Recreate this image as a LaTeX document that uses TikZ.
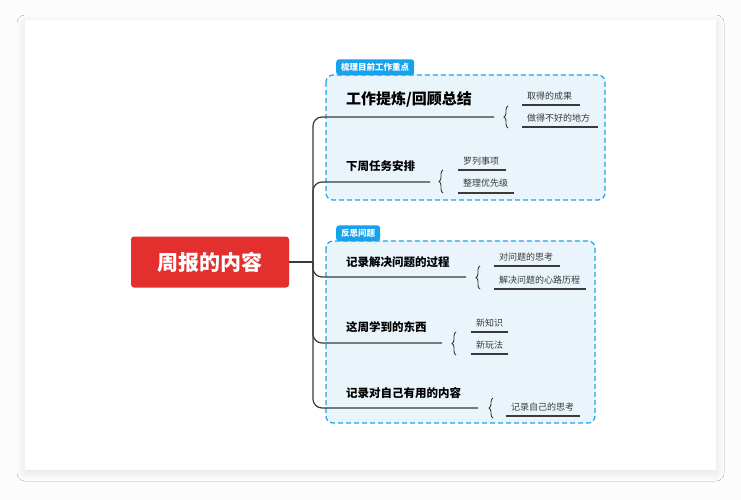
\documentclass[tikz,border=0pt]{standalone}
\usepackage{fontspec}
\setmainfont{Noto Sans CJK SC}
\usetikzlibrary{decorations.pathreplacing,shadows.blur}
\definecolor{bxfill}{HTML}{EAF5FB}
\definecolor{bxline}{HTML}{1FA3F0}
\definecolor{tabc}{HTML}{17A2EE}
\definecolor{redc}{HTML}{E3302F}
\definecolor{ln}{HTML}{3A3A3A}
\begin{document}
\begin{tikzpicture}[x=1pt,y=-1pt,
  grp/.style={draw=bxline,fill=bxfill,dash pattern=on 5pt off 3pt,line width=1.2pt,rounded corners=7},
  tab/.style={fill=tabc,text=white,rounded corners=3,font=\fontsize{8.5}{9}\selectfont\bfseries,inner xsep=5pt,inner ysep=0pt,anchor=south west,minimum height=16},
  big/.style={font=\fontsize{15}{16}\selectfont\bfseries,anchor=west,inner sep=0},
  mid/.style={font=\fontsize{11.5}{13}\selectfont\bfseries,anchor=west,inner sep=0},
  sm/.style={font=\fontsize{9}{10}\selectfont,anchor=west,inner sep=0,text=ln},
  under/.style={draw=ln,line width=1.1pt},
  br/.style={draw=ln,line width=0.9pt,decorate,decoration={brace,amplitude=4pt}}]
\useasboundingbox (0,0) rectangle (741,500);
\fill[black!1] (0,0) rectangle (741,500);
\fill[white,blur shadow={shadow blur steps=12,shadow blur radius=8pt,shadow xshift=0pt,shadow yshift=-3pt,shadow opacity=10}] (25,20) rectangle (716,470);
% groups
\path[grp] (326,75) rectangle (605,200);
\node[tab] (t1) at (336,75.5) {梳理目前工作重点};
\path[grp] (326,241) rectangle (595,423);
\node[tab] (t2) at (336,241.5) {反思问题};
% center
\node[fill=redc,text=white,rounded corners=3,minimum width=158,minimum height=51,font=\fontsize{21}{22}\selectfont\bfseries] (c) at (210,262) {周报的内容};
\coordinate (hub) at (313,262);
\draw[ln,line width=1.2pt] (c.east) -- (hub);
\foreach \y/\e in {117/494,182/430,277/466,343/442,408/478}{
  \draw[ln,line width=1.2pt,rounded corners=9] (hub) |- (333,\y) -- (\e,\y);
}
% branch texts
\node[big] (b1) at (346,99) {工作提炼/回顾总结};
\node[mid] (b2) at (346,166) {下周任务安排};
\node[mid] (b3) at (346,262) {记录解决问题的过程};
\node[mid] (b4) at (346,327) {这周学到的东西};
\node[mid] (b5) at (346,393) {记录对自己有用的内容};
% braces
\draw[br] (508,128) -- (508,106);
\draw[br] (443,193) -- (443,170);
\draw[br] (480,289) -- (480,266);
\draw[br] (456,355) -- (456,332);
\draw[br] (493,418) -- (493,398);
% leaves
\node[sm] (l1) at (527,96) {取得的成果}; \draw[under] (522,105) -- (580,105);
\node[sm] (l2) at (527,118) {做得不好的地方}; \draw[under] (522,127) -- (598,127);
\node[sm] (l3) at (463,161) {罗列事项}; \draw[under] (458,170) -- (506,170);
\node[sm] (l4) at (463,183) {整理优先级}; \draw[under] (458,193) -- (514,193);
\node[sm] (l5) at (499,257) {对问题的思考}; \draw[under] (494,266) -- (560,266);
\node[sm] (l6) at (499,280) {解决问题的心路历程}; \draw[under] (494,289) -- (586,289);
\node[sm] (l7) at (476,323) {新知识}; \draw[under] (471,332) -- (508,332);
\node[sm] (l8) at (476,345) {新玩法}; \draw[under] (471,354) -- (508,354);
\node[sm] (l9) at (511,407) {记录自己的思考}; \draw[under] (506,416) -- (580,416);
\end{tikzpicture}
\end{document}
